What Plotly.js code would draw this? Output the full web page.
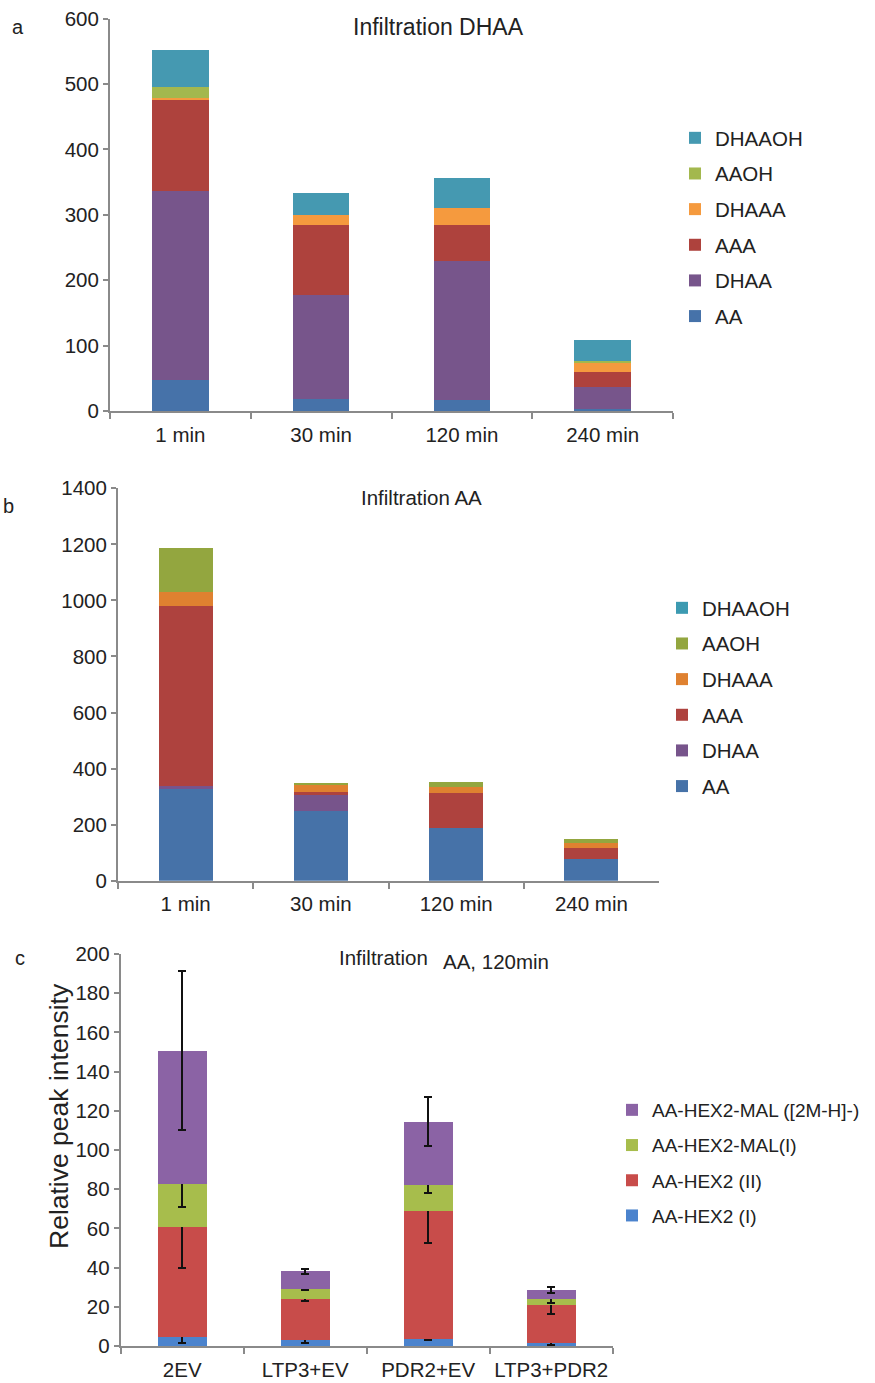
<!DOCTYPE html>
<html>
<head>
<meta charset="utf-8">
<script src="https://cdn.plot.ly/plotly-3.0.1.min.js"></script>
<style>html,body{margin:0;padding:0;background:#fff;}#chart{width:875px;height:1383px;}</style>
</head>
<body>
<div id="chart"></div>
<script>
// ---------- data ----------
const timeCats = ["1 min", "30 min", "120 min", "240 min"];
const seriesNames = ["AA", "DHAA", "AAA", "DHAAA", "AAOH", "DHAAOH"];

// Panel a: Infiltration DHAA
const a_AA     = [48, 18, 17, 3];
const a_DHAA   = [288, 159, 212, 33];
const a_AAA    = [139, 107, 55, 23];
const a_DHAAA  = [4, 15, 27, 14];
const a_AAOH   = [17, 0, 0, 4];
const a_DHAAOH = [56, 35, 45, 31];

// Panel b: Infiltration AA
const b_AA     = [326, 250, 189, 77];
const b_DHAA   = [13, 56, 0, 0];
const b_AAA    = [642, 12, 125, 41];
const b_DHAAA  = [49, 22, 19, 17];
const b_AAOH   = [158, 7, 20, 14];
const b_DHAAOH = [0, 0, 0, 0];

// Panel c: Infiltration AA, 120min
const cCats = ["2EV", "LTP3+EV", "PDR2+EV", "LTP3+PDR2"];
const cNames = ["AA-HEX2 (I)", "AA-HEX2 (II)", "AA-HEX2-MAL(I)", "AA-HEX2-MAL ([2M-H]-)"];
const c_HEX2_I      = [4.8, 3.1, 3.4, 1.4];
const c_HEX2_II     = [55.8, 20.9, 65.5, 19.7];
const c_MAL_I       = [22.1, 5.1, 13.2, 3.0];
const c_MAL_2M      = [68.0, 9.0, 32.3, 4.6];
const c_err_HEX2_I  = [3.2, 1.5, 0.5, 0.8];
const c_err_HEX2_II = [20.6, 1.0, 16.5, 4.9];
const c_err_MAL_I   = [12.0, 0.7, 3.9, 2.0];
const c_err_MAL_2M  = [40.5, 1.4, 12.6, 1.6];

// ---------- styles ----------
const colorsA = ["#4672a9", "#77558b", "#ae423d", "#f59a3e", "#a3b84e", "#4599b1"];
const colorsB = ["#4672a8", "#77548b", "#ae423e", "#df8130", "#93a63f", "#3c9ab1"];
const colorsC = ["#4b83cd", "#c84c4a", "#a7bd4c", "#8b63a5"];
const FONT = "Liberation Sans, Arial, sans-serif";
const W = 875, H = 1383;
const px = v => v / W;
const py = v => 1 - v / H;

const traces = [];
const aVals = [a_AA, a_DHAA, a_AAA, a_DHAAA, a_AAOH, a_DHAAOH];
const bVals = [b_AA, b_DHAA, b_AAA, b_DHAAA, b_AAOH, b_DHAAOH];
seriesNames.forEach((n, i) => {
  traces.push({type: "bar", name: n, x: timeCats, y: aVals[i], xaxis: "x", yaxis: "y",
    marker: {color: colorsA[i], line: {width: 0}}, legend: "legend", legendgroup: "a" + i,
    legendrank: 100 - i, hoverinfo: "none"});
});
seriesNames.forEach((n, i) => {
  traces.push({type: "bar", name: n, x: timeCats, y: bVals[i], xaxis: "x2", yaxis: "y2",
    marker: {color: colorsB[i], line: {width: 0}}, legend: "legend2", legendgroup: "b" + i,
    legendrank: 100 - i, hoverinfo: "none"});
});
const cVals = [c_HEX2_I, c_HEX2_II, c_MAL_I, c_MAL_2M];
const cErr = [c_err_HEX2_I, c_err_HEX2_II, c_err_MAL_I, c_err_MAL_2M];
cNames.forEach((n, i) => {
  traces.push({type: "bar", name: n, x: cCats, y: cVals[i], xaxis: "x3", yaxis: "y3",
    marker: {color: colorsC[i], line: {width: 0}}, legend: "legend3", legendgroup: "c" + i,
    legendrank: 100 - i, hoverinfo: "none",
    error_y: {type: "data", array: cErr[i], visible: true, color: "#111", thickness: 2, width: 4}});
});

const axisLine = "#8a8a8a";
const tickFont = {family: FONT, size: 20.5, color: "#222"};
function xax(domain, anchor) {
  return {domain: domain, anchor: anchor, type: "category", showline: true, linecolor: axisLine, linewidth: 2,
    ticks: "outside", tickson: "boundaries", ticklen: 6, tickcolor: axisLine, tickwidth: 2, tickangle: 0,
    ticklabelstandoff: 4, showgrid: false, zeroline: false, tickfont: tickFont, fixedrange: true, automargin: false};
}
function yax(domain, anchor, range, dtick) {
  return {domain: domain, anchor: anchor, range: range, dtick: dtick, showline: true, linecolor: axisLine, linewidth: 2,
    ticks: "outside", ticklen: 5, tickcolor: axisLine, tickwidth: 2, showgrid: false, zeroline: false,
    tickfont: tickFont, fixedrange: true, automargin: false};
}
function legendAt(xpx, ypx, size) {
  return {x: px(xpx), y: py(ypx), xanchor: "left", yanchor: "top", bgcolor: "rgba(0,0,0,0)",
    traceorder: "grouped", tracegroupgap: 6, font: {family: FONT, size: size || 20.5, color: "#222"},
    itemclick: false, itemdoubleclick: false};
}
function ann(text, x, y, size, extra) {
  return Object.assign({text: text, x: px(x), y: py(y), xref: "paper", yref: "paper", showarrow: false,
    xanchor: "center", yanchor: "middle", font: {family: FONT, size: size, color: "#222"}}, extra || {});
}

const layout = {
  width: W, height: H, margin: {l: 0, r: 0, t: 0, b: 0, pad: 0, autoexpand: false},
  paper_bgcolor: "#fff", plot_bgcolor: "#fff",
  barmode: "stack", bargap: 0.6, showlegend: true,
  font: {family: FONT, color: "#222"},
  xaxis: xax([px(110), px(673)], "y"),
  yaxis: yax([py(411), py(18.5)], "x", [0, 600], 100),
  xaxis2: xax([px(118), px(659)], "y2"),
  yaxis2: yax([py(880.7), py(488.3)], "x2", [0, 1400], 200),
  xaxis3: xax([px(120.7), px(612.7)], "y3"),
  yaxis3: yax([py(1346), py(954)], "x3", [0, 200], 20),
  legend: legendAt(675, 118),
  legend2: legendAt(662, 588),
  legend3: Object.assign(legendAt(612, 1091, 19), {tracegroupgap: 7.5}),
  annotations: [
    ann("a", 18, 27, 20),
    ann("b", 8, 506, 20),
    ann("c", 20, 958, 20),
    ann("Infiltration DHAA", 439, 27, 23),
    ann("Infiltration AA", 421.5, 497, 20.5),
    ann("Infiltration", 383.5, 958, 20.5),
    ann("AA, 120min", 495.5, 961.5, 20.5),
    ann("Relative peak intensity", 59, 1116, 26.5, {textangle: -90})
  ]
};

Plotly.newPlot("chart", traces, layout, {staticPlot: true, displayModeBar: false});
</script>
</body>
</html>
